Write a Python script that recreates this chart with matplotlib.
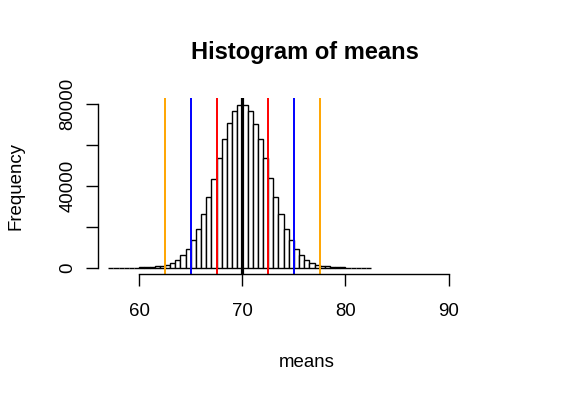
import matplotlib
matplotlib.use("Agg")
import matplotlib.pyplot as plt
import numpy as np

plt.rcParams['font.family'] = ['Liberation Sans', 'DejaVu Sans']

# histogram of the simulated means, bins of width 0.5 from 57 to 82.5
bin_edges = np.arange(57, 83, 0.5)
counts = [2, 3, 10, 25, 60, 110, 200, 320, 450, 650,
          1000, 1500, 2500, 3800, 6200, 9300, 13300, 18900, 26400, 34500,
          43500, 53300, 62600, 70500, 76600, 79300, 79600, 76500, 70200, 62800,
          53500, 43700, 34500, 26400, 18900, 13300, 9300, 6100, 3900, 2450,
          1450, 950, 620, 420, 280, 160, 80, 35, 15, 5, 2]

# reference lines: mean, and +/- 2.5, 5, 7.5
mean_line = 70
line_pos = [62.5, 77.5, 65, 75, 67.5, 72.5]
line_col = ['orange', 'orange', 'blue', 'blue', 'red', 'red']

x_ticks = [60, 70, 80, 90]
y_ticks = [0, 20000, 40000, 60000, 80000]
y_labels = ['0', '', '40000', '', '80000']

W, H = 566, 397
fig = plt.figure(figsize=(W / 100, H / 100), dpi=100)
ax = fig.add_axes([98 / W, (H - 274.3) / H, (515.6 - 98) / W, (274.3 - 98) / H])

ax.bar(bin_edges[:-1], counts, width=0.5, align='edge',
       facecolor='white', edgecolor='black', linewidth=1.0)

for p, c in zip(line_pos, line_col):
    ax.axvline(p, color=c, lw=1.4)
ax.axvline(mean_line, color='black', lw=2.3)

top = max(counts)
ax.set_xlim(56, 96.5)
ax.set_ylim(-0.04 * top, 1.04 * top)

for s in ['top', 'right']:
    ax.spines[s].set_visible(False)
ax.spines['left'].set_bounds(0, 80000)
ax.spines['bottom'].set_bounds(60, 90)
ax.spines['left'].set_linewidth(1.0)
ax.spines['bottom'].set_linewidth(1.0)

ax.set_xticks(x_ticks)
ax.set_xticklabels([str(t) for t in x_ticks])
ax.set_yticks(y_ticks)
ax.set_yticklabels(y_labels, rotation=90, va='center')
ax.tick_params(axis='x', length=8.6, width=1.0, pad=12, labelsize=13.4)
ax.tick_params(axis='y', length=8.6, width=1.0, pad=7, labelsize=13.4)

fig.text(305 / W, 1 - 59.3 / H, 'Histogram of means', ha='center',
         va='baseline', fontsize=17, fontweight='bold')
fig.text(306.8 / W, 1 - 366.7 / H, 'means', ha='center', va='baseline',
         fontsize=13.4)
fig.text(20.3 / W, 1 - 186 / H, 'Frequency', ha='center', va='baseline',
         rotation=90, rotation_mode='anchor', fontsize=13.4)

fig.savefig('out.png', dpi=100)
